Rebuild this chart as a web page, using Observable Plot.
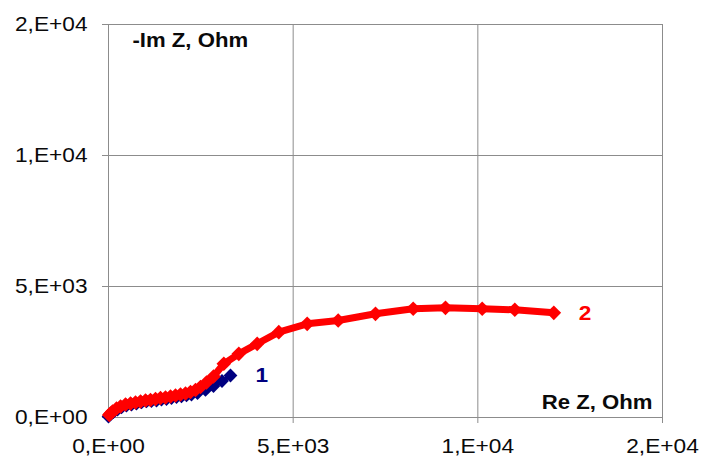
<!DOCTYPE html>
<html>
<head>
<meta charset="utf-8">
<script src="https://cdn.jsdelivr.net/npm/d3@7"></script>
<script src="https://cdn.jsdelivr.net/npm/@observablehq/plot@0.6"></script>
<style>
  html, body { margin: 0; padding: 0; background: #fff; }
  #chart svg { display: block; }
</style>
</head>
<body>
<div id="chart"></div>
<script>
// Nyquist plot: Re Z vs -Im Z (Ohm) for two samples
const series1Re = [0, 54, 135, 244, 352, 487, 623, 758, 894, 1029, 1164, 1300, 1435, 1570, 1706, 1841, 1976, 2112, 2247, 2410, 2626, 2843, 3073, 3303];
const series1Im = [38, 115, 210, 305, 382, 458, 496, 534, 573, 611, 630, 649, 687, 706, 744, 782, 802, 840, 878, 935, 1050, 1202, 1393, 1603];

const series2Re = [20, 54, 108, 217, 325, 460, 596, 731, 866, 1002, 1137, 1273, 1408, 1543, 1679, 1814, 1949, 2085, 2220, 2356, 2491, 2653, 2843, 3122, 3528, 4026, 4611, 5380, 6219, 7229, 8250, 9124, 10118, 11001, 12057];
const series2Im = [100, 153, 229, 344, 420, 496, 534, 573, 611, 649, 668, 706, 744, 763, 802, 840, 878, 916, 973, 1050, 1164, 1336, 1565, 2050, 2431, 2813, 3256, 3576, 3702, 3958, 4149, 4187, 4149, 4111, 3996];

const seriesNames = ["1", "2"];
const seriesColors = ["#000080", "#ff0000"];

const tickValues = [0, 5000, 10000, 15000];
const xTickLabels = ["0,E+00", "5,E+03", "1,E+04", "2,E+04"];
const yTickLabels = ["0,E+00", "5,E+03", "1,E+04", "2,E+04"];

const xTitle = "Re Z, Ohm";
const yTitle = "-Im Z, Ohm";

const toRows = (re, im, name) => re.map((r, i) => ({re: r, im: im[i], name}));
const s1 = toRows(series1Re, series1Im, seriesNames[0]);
const s2 = toRows(series2Re, series2Im, seriesNames[1]);

const gridColor = "#8c8c8c";
const ink = "#0a0a0a";

const svg = Plot.plot({
  width: 701,
  height: 456,
  marginLeft: 108,
  marginRight: 39,
  marginTop: 24,
  marginBottom: 39,
  style: {fontFamily: "'Liberation Sans', Arial, sans-serif", fontSize: "21px", color: ink, background: "#fff"},
  x: {domain: [0, 15000], ticks: tickValues},
  y: {domain: [0, 15000], ticks: tickValues},
  marks: [
    Plot.gridX(tickValues, {stroke: gridColor, strokeOpacity: 1}),
    Plot.gridY(tickValues, {stroke: gridColor, strokeOpacity: 1}),
    Plot.frame({stroke: gridColor}),
    Plot.axisX({ticks: tickValues, tickSize: 6, tickPadding: 15, stroke: gridColor, fill: ink,
      tickFormat: (d) => xTickLabels[tickValues.indexOf(d)], label: null}),
    Plot.axisY({ticks: tickValues, tickSize: 6, tickPadding: 15, stroke: gridColor, fill: ink,
      tickFormat: (d) => yTickLabels[tickValues.indexOf(d)], label: null}),
    // series 1
    Plot.line(s1, {x: "re", y: "im", stroke: seriesColors[0], strokeWidth: 4}),
    Plot.dot(s1, {x: "re", y: "im", symbol: "diamond2", r: 6.2, fill: seriesColors[0], stroke: null}),
    // series 2
    Plot.line(s2, {x: "re", y: "im", stroke: seriesColors[1], strokeWidth: 7}),
    Plot.dot(s2, {x: "re", y: "im", symbol: "diamond2", r: 6.6, fill: seriesColors[1], stroke: null}),
    // series labels at the last point of each curve
    Plot.text([s1[s1.length - 1]], {x: "re", y: "im", text: "name", dx: 25, textAnchor: "start", lineAnchor: "middle",
      fill: seriesColors[0], fontWeight: "bold", fontSize: 21}),
    Plot.text([s2[s2.length - 1]], {x: "re", y: "im", text: "name", dx: 25, textAnchor: "start", lineAnchor: "middle",
      fill: seriesColors[1], fontWeight: "bold", fontSize: 21}),
    // axis titles inside the frame
    Plot.text([yTitle], {text: (d) => d, frameAnchor: "top-left", textAnchor: "start", lineAnchor: "middle",
      dx: 24, dy: 15.5, fontWeight: "bold", fontSize: 20.5, fill: ink}),
    Plot.text([xTitle], {text: (d) => d, frameAnchor: "bottom-right", textAnchor: "end", lineAnchor: "middle",
      dx: -10, dy: -15, fontWeight: "bold", fontSize: 20.5, fill: ink})
  ]
});

document.getElementById("chart").append(svg);

// widen the glyphs a little, like the broad Arial lettering of the chart
svg.querySelectorAll("text").forEach((t) => {
  const w = t.getComputedTextLength();
  if (w > 0) {
    t.setAttribute("textLength", (w * 1.08).toFixed(1));
    t.setAttribute("lengthAdjust", "spacingAndGlyphs");
  }
});
</script>
</body>
</html>
